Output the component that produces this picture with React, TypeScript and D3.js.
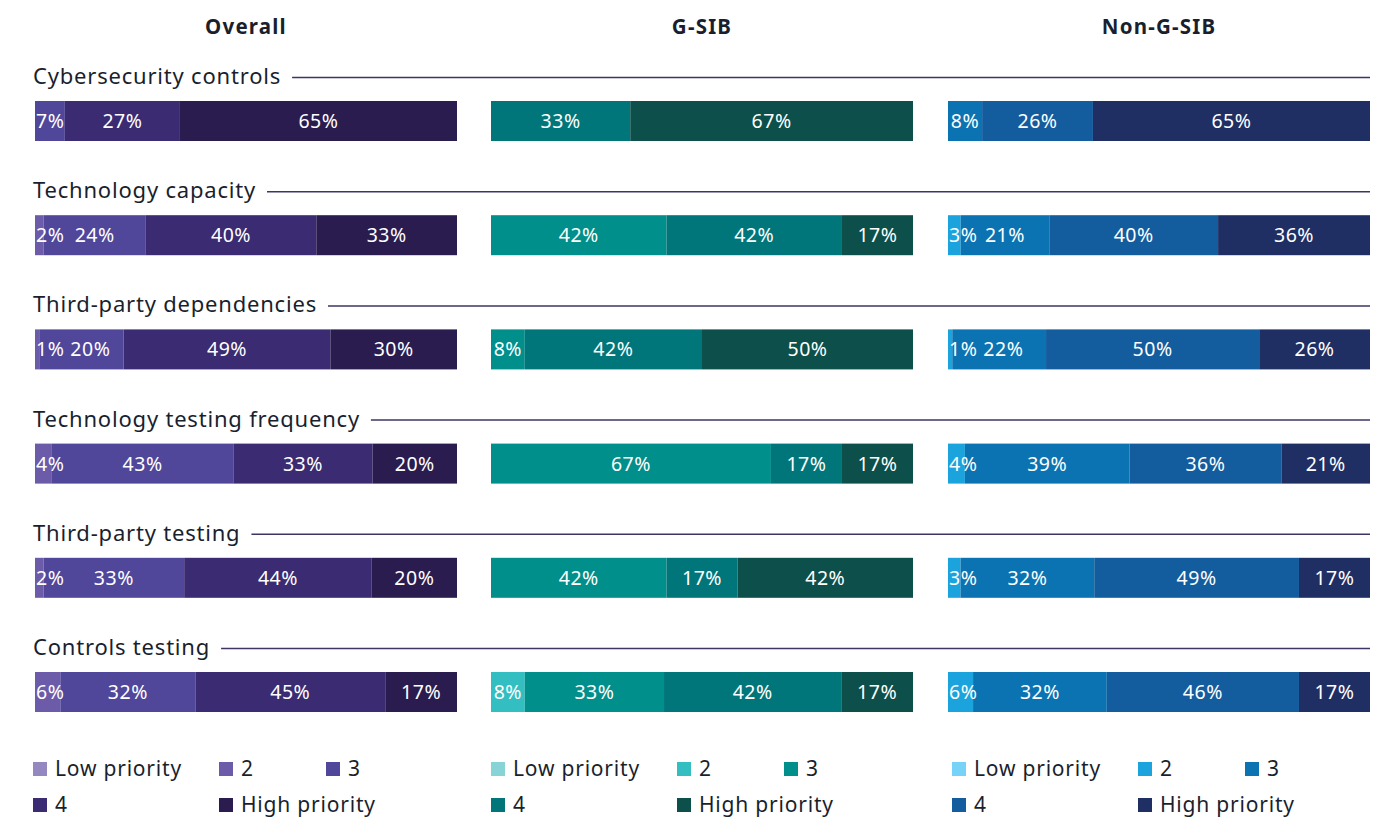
import React, { useEffect, useRef } from "react";
import * as d3 from "d3";

const groups = ["Overall", "G-SIB", "Non-G-SIB"];
const categories = [
  "Cybersecurity controls",
  "Technology capacity",
  "Third-party dependencies",
  "Technology testing frequency",
  "Third-party testing",
  "Controls testing",
];
const priorityLevels = ["Low priority", "2", "3", "4", "High priority"];

// values per category: [Low, 2, 3, 4, High]
const overallValues = [
  [0, 0, 7, 27, 65],
  [0, 2, 24, 40, 33],
  [0, 1, 20, 49, 30],
  [0, 4, 43, 33, 20],
  [0, 2, 33, 44, 20],
  [0, 6, 32, 45, 17],
];
const gsibValues = [
  [0, 0, 0, 33, 67],
  [0, 0, 42, 42, 17],
  [0, 0, 8, 42, 50],
  [0, 0, 67, 17, 17],
  [0, 0, 42, 17, 42],
  [0, 8, 33, 42, 17],
];
const nonGsibValues = [
  [0, 0, 8, 26, 65],
  [0, 3, 21, 40, 36],
  [0, 1, 22, 50, 26],
  [0, 4, 39, 36, 21],
  [0, 3, 32, 49, 17],
  [0, 6, 32, 46, 17],
];

const overallColors = ["#9587c0", "#6b5ba8", "#50469a", "#3a2b72", "#2a1c4f"];
const gsibColors = ["#88d3d6", "#33bfc1", "#008f8b", "#00767a", "#0c4f4b"];
const nonGsibColors = ["#76d3f7", "#1aa3dc", "#0b73b2", "#135c9e", "#1f2f63"];

const FONT = "'Noto Sans', sans-serif";
const TEXT_COLOR = "#1a1f2e";

export default function App() {
  const ref = useRef<SVGSVGElement | null>(null);

  useEffect(() => {
    const svg = d3.select(ref.current);
    svg.selectAll("*").remove();

    const panelX = d3.scaleOrdinal<string, number>().domain(groups).range([35, 491, 948]);
    const panelW = 422;
    const rowY = d3
      .scaleBand<string>()
      .domain(categories)
      .range([101, 101 + 114.2 * categories.length])
      .paddingInner(0)
      .paddingOuter(0);
    const barH = 40;

    const data = [overallValues, gsibValues, nonGsibValues];
    const colors = [overallColors, gsibColors, nonGsibColors];

    // Headers
    groups.forEach((g) => {
      svg
        .append("text")
        .attr("x", panelX(g) + panelW / 2)
        .attr("y", 34)
        .attr("text-anchor", "middle")
        .attr("font-family", FONT)
        .attr("font-weight", 700)
        .attr("font-size", 20.5)
        .attr("letter-spacing", 1.2)
        .attr("fill", TEXT_COLOR)
        .text(g);
    });

    // Category titles with rules
    categories.forEach((c) => {
      const y0 = rowY(c)!;
      const t = svg
        .append("text")
        .attr("x", 33)
        .attr("y", y0 - 17)
        .attr("font-family", FONT)
        .attr("font-size", 22)
        .attr("letter-spacing", 0.8)
        .attr("fill", TEXT_COLOR)
        .text(c);
      const w = (t.node() as SVGTextElement).getComputedTextLength();
      svg
        .append("line")
        .attr("x1", 33 + w + 11)
        .attr("x2", 1370)
        .attr("y1", y0 - 23.5)
        .attr("y2", y0 - 23.5)
        .attr("stroke", "#3f3463")
        .attr("stroke-width", 1.5);
    });

    // Bars
    groups.forEach((g, gi) => {
      const x0 = panelX(g);
      categories.forEach((c, ci) => {
        const vals = data[gi][ci];
        const total = d3.sum(vals);
        const x = d3.scaleLinear().domain([0, total]).range([x0, x0 + panelW]);
        const cum = [0, ...d3.cumsum(vals)];
        const y0 = rowY(c)!;
        const gRow = svg.append("g");
        vals.forEach((v, i) => {
          if (v <= 0) return;
          gRow
            .append("rect")
            .attr("x", x(cum[i]))
            .attr("y", y0)
            .attr("width", x(cum[i + 1]) - x(cum[i]))
            .attr("height", barH)
            .attr("fill", colors[gi][i]);
        });
        let prevRight = x0 - 100;
        vals.forEach((v, i) => {
          if (v <= 0) return;
          const t = gRow
            .append("text")
            .attr("y", y0 + barH / 2)
            .attr("dy", "0.36em")
            .attr("font-family", FONT)
            .attr("font-size", 19.5)
            .attr("letter-spacing", 0.5)
            .attr("fill", "#ffffff")
            .text(`${v}%`);
          const w = (t.node() as SVGTextElement).getComputedTextLength();
          const center = (x(cum[i]) + x(cum[i + 1])) / 2;
          let left = center - w / 2;
          left = Math.max(left, x0 + 1, prevRight + 6);
          t.attr("x", left);
          prevRight = left + w;
        });
      });
    });

    // Legends
    const colOffsets = [0, 186, 293];
    const legendX = [33, 491, 952];
    const legendRows = [762, 798];
    groups.forEach((g, gi) => {
      priorityLevels.forEach((p, i) => {
        const col = i % 3;
        const row = Math.floor(i / 3);
        const lx = legendX[gi] + colOffsets[col];
        const ly = legendRows[row];
        svg
          .append("rect")
          .attr("x", lx)
          .attr("y", ly)
          .attr("width", 14)
          .attr("height", 14)
          .attr("fill", colors[gi][i]);
        svg
          .append("text")
          .attr("x", lx + 22)
          .attr("y", ly + 14)
          .attr("font-family", FONT)
          .attr("font-size", 21)
          .attr("letter-spacing", 0.8)
          .attr("fill", TEXT_COLOR)
          .text(p);
      });
    });
  }, []);

  return (
    <svg
      ref={ref}
      width={1382}
      height={818}
      style={{ position: "absolute", left: 0, top: 0, background: "#ffffff" }}
    />
  );
}
